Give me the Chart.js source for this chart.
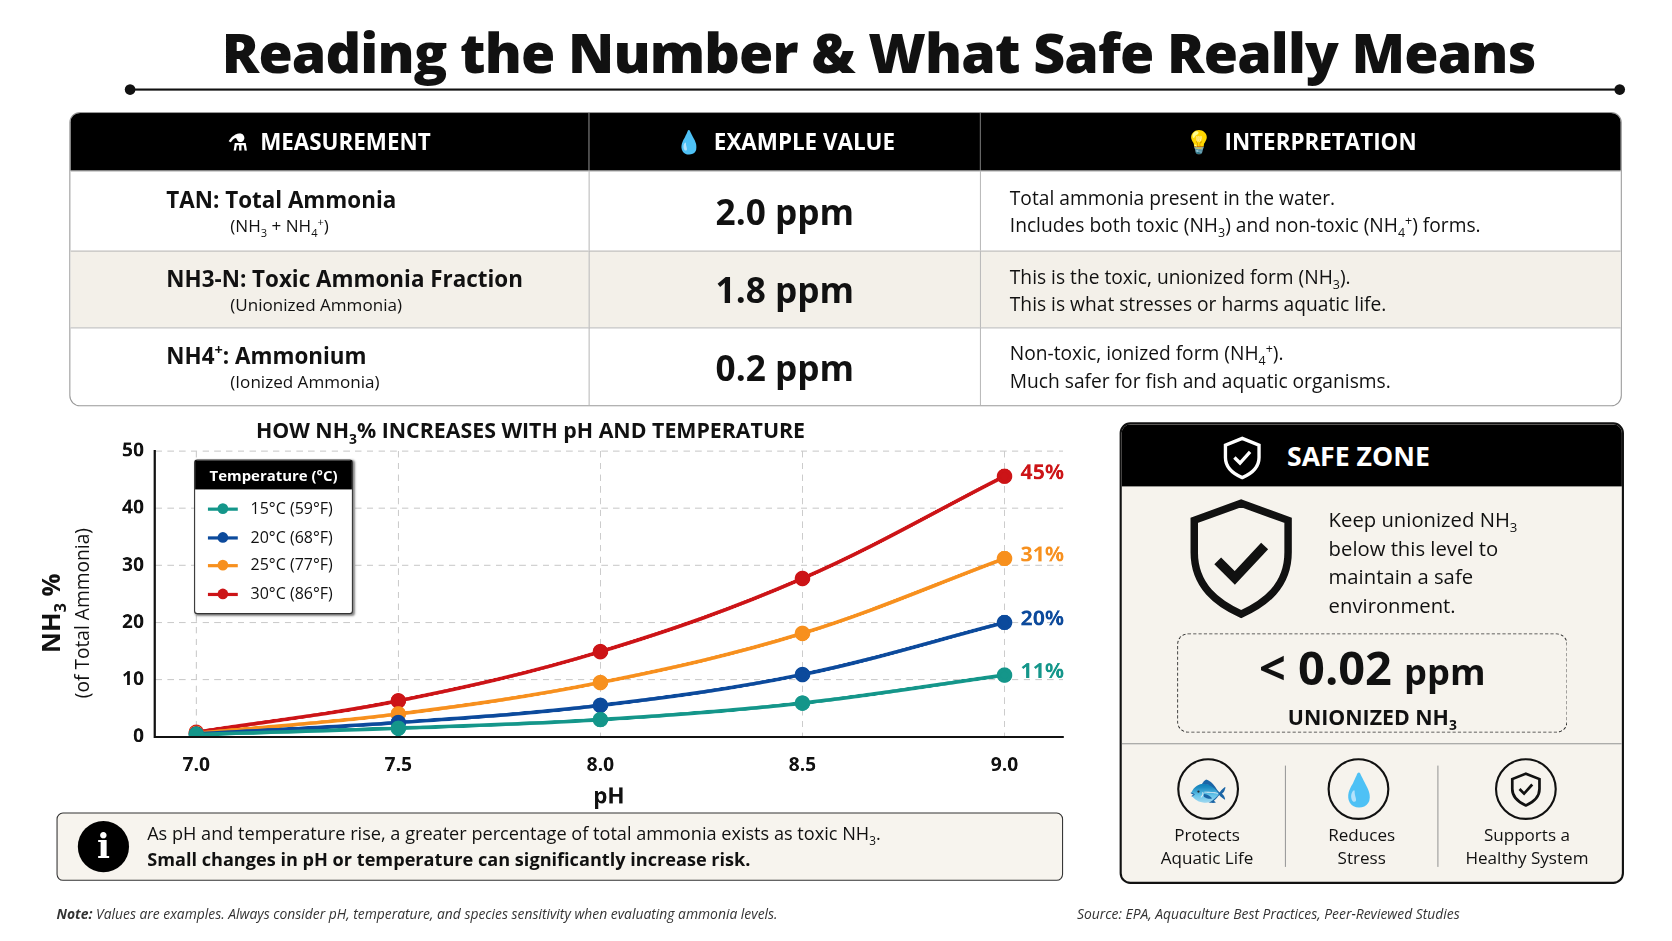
<!DOCTYPE html>
<html><head><meta charset="utf-8">
<script src="https://cdn.jsdelivr.net/npm/chart.js@4"></script>
<style>
body{margin:0;width:1672px;height:941px;background:#fff;font-family:"Open Sans",sans-serif;color:#111;overflow:hidden}
#root{position:relative;width:1568px;height:882px;transform:scale(1.0663);transform-origin:0 0}
.a{position:absolute}
h1{position:absolute;left:0;top:12px;margin:0;text-align:center;font:800 52px "Open Sans";letter-spacing:-0.8px;width:1568px;padding-left:80px;box-sizing:border-box}
table{position:absolute;left:65px;top:105px;width:1456px;border-collapse:separate;border-spacing:0;border:1px solid #999;border-radius:10px;overflow:hidden}
th{background:#000;color:#fff;height:52px;font:bold 21px "Open Sans";text-align:center}
td{border-top:1px solid #bbb;border-left:1px solid #bbb;vertical-align:middle}
td:first-child{border-left:none}
.big{font:bold 33px "Open Sans";text-align:center}
.it{font-size:18px;padding-left:27px;line-height:26px}
.m{padding-left:90px;font:bold 21px "Open Sans";line-height:28px}
.m span{font:normal 16px "Open Sans";display:block;padding-left:60px}
tr.b td{background:#f3f0e9}
sub,sup{font-size:65%;line-height:0}
</style></head><body><div id="root">
<h1>Reading the Number &amp; What Safe Really Means</h1>
<div class="a" style="left:122px;top:83px;width:1398px;height:2px;background:#111"></div>
<div class="a" style="left:117px;top:79px;width:10px;height:10px;border-radius:5px;background:#111"></div>
<div class="a" style="left:1514px;top:79px;width:10px;height:10px;border-radius:5px;background:#111"></div>
<table>
<tr><th style="width:484px">⚗&nbsp; MEASUREMENT</th><th style="width:364px;border-left:1px solid #666">💧&nbsp; EXAMPLE VALUE</th><th style="border-left:1px solid #666">💡&nbsp; INTERPRETATION</th></tr>
<tr style="height:75px"><td class="m">TAN: Total Ammonia<span>(NH<sub>3</sub> + NH<sub>4</sub><sup>+</sup>)</span></td><td class="big">2.0 ppm</td><td class="it">Total ammonia present in the water.<br>Includes both toxic (NH<sub>3</sub>) and non-toxic (NH<sub>4</sub><sup>+</sup>) forms.</td></tr>
<tr class="b" style="height:72px"><td class="m">NH3-N: Toxic Ammonia Fraction<span>(Unionized Ammonia)</span></td><td class="big">1.8 ppm</td><td class="it">This is the toxic, unionized form (NH<sub>3</sub>).<br>This is what stresses or harms aquatic life.</td></tr>
<tr style="height:73px"><td class="m">NH4<sup>+</sup>: Ammonium<span>(Ionized Ammonia)</span></td><td class="big">0.2 ppm</td><td class="it">Non-toxic, ionized form (NH<sub>4</sub><sup>+</sup>).<br>Much safer for fish and aquatic organisms.</td></tr>
</table>

<div class="a" style="left:240px;top:390px;font:bold 20px 'Open Sans'">HOW NH<sub>3</sub>% INCREASES WITH pH AND TEMPERATURE</div>
<div class="a" style="left:-60px;top:545px;width:240px;height:60px;transform:rotate(-90deg);text-align:center;line-height:26px">
<div style="font:bold 24px 'Open Sans'">NH<sub>3</sub> %</div><div style="font-size:18px">(of Total Ammonia)</div></div>
<div class="a" style="left:40px;top:390px;width:980px;height:370px"><canvas id="c"></canvas></div>
<div class="a" id="leg" style="left:182px;top:431px;width:147px;height:143px;border:1px solid #333;border-radius:3px;background:#fff;font-size:15px;box-shadow:1px 1px 2px #888">
<div style="background:#000;color:#fff;font:bold 14px 'Open Sans';text-align:center;height:27px;line-height:27px">Temperature (°C)</div></div>

<div class="a" style="left:53px;top:762px;width:942px;height:62px;border:1.5px solid #333;border-radius:6px;background:#f7f4ee"></div>
<div class="a" style="left:73px;top:770px;width:48px;height:48px;border-radius:24px;background:#000;color:#fff;font:bold 32px 'DejaVu Serif';text-align:center;line-height:48px">i</div>
<div class="a" style="left:138px;top:770px;font-size:17px;line-height:24px">As pH and temperature rise, a greater percentage of total ammonia exists as toxic NH<sub>3</sub>.<br><b>Small changes in pH or temperature can significantly increase risk.</b></div>

<div class="a" style="left:1050px;top:396px;width:469px;height:429px;border:2px solid #111;border-radius:10px;background:#f6f3ed;overflow:hidden">
<div style="background:#000;color:#fff;height:58px;font:bold 25px 'Open Sans';line-height:58px;padding-left:155px">SAFE ZONE</div>
<svg class="a" style="left:92px;top:10px" width="42" height="42" viewBox="0 0 40 40"><path d="M20 3 L35 9 V20 C35 30 27 35 20 38 C13 35 5 30 5 20 V9 Z" fill="none" stroke="#fff" stroke-width="3"/><path d="M13 20 l5 5 l9 -10" fill="none" stroke="#fff" stroke-width="3"/></svg>
<svg class="a" style="left:62px;top:70px" width="100" height="112" viewBox="0 0 100 112"><path d="M50 4 L94 20 V50 C94 82 72 98 50 108 C28 98 6 82 6 50 V20 Z" fill="none" stroke="#111" stroke-width="7"/><path d="M28 58 l16 16 l28 -30" fill="none" stroke="#111" stroke-width="9"/></svg>
<div class="a" style="left:194px;top:76px;font-size:19px;line-height:27px">Keep unionized NH<sub>3</sub><br>below this level to<br>maintain a safe<br>environment.</div>
<div class="a" style="left:52px;top:196px;width:364px;height:91px;border:1.5px dashed #333;border-radius:10px;text-align:center">
<div style="font:bold 44px 'Open Sans';line-height:60px">&lt; 0.02 <span style="font-size:34px">ppm</span></div>
<div style="font:bold 20px 'Open Sans'">UNIONIZED NH<sub>3</sub></div></div>
<div class="a" style="left:0;top:299px;width:469px;height:1px;background:#999"></div>
<div class="a" style="left:153px;top:320px;width:1px;height:95px;background:#999"></div>
<div class="a" style="left:296px;top:320px;width:1px;height:95px;background:#999"></div>
<div class="a" style="left:52px;top:313px;width:54px;height:54px;border:2px solid #111;border-radius:30px;font-size:30px;text-align:center;line-height:54px">🐟</div>
<div class="a" style="left:193px;top:313px;width:54px;height:54px;border:2px solid #111;border-radius:30px;font-size:30px;text-align:center;line-height:54px">💧</div>
<div class="a" style="left:350px;top:313px;width:54px;height:54px;border:2px solid #111;border-radius:30px;text-align:center"><svg width="34" height="38" viewBox="0 0 40 40" style="margin-top:8px"><path d="M20 3 L35 9 V20 C35 30 27 35 20 38 C13 35 5 30 5 20 V9 Z" fill="none" stroke="#111" stroke-width="3"/><path d="M13 20 l5 5 l9 -10" fill="none" stroke="#111" stroke-width="3"/></svg></div>
<div class="a" style="left:10px;top:375px;width:140px;text-align:center;font-size:16px;line-height:21px">Protects<br>Aquatic Life</div>
<div class="a" style="left:155px;top:375px;width:140px;text-align:center;font-size:16px;line-height:21px">Reduces<br>Stress</div>
<div class="a" style="left:300px;top:375px;width:160px;text-align:center;font-size:16px;line-height:21px">Supports a<br>Healthy System</div>
</div>

<div class="a" style="left:53px;top:848px;font-size:13px;font-style:italic;color:#333"><b>Note:</b> Values are examples. Always consider pH, temperature, and species sensitivity when evaluating ammonia levels.</div>
<div class="a" style="left:1010px;top:848px;font-size:13px;font-style:italic;color:#333">Source: EPA, Aquaculture Best Practices, Peer-Reviewed Studies</div>
</div>
<script>
const phValues=[7.0,7.5,8.0,8.5,9.0];
const seriesLabels=["15°C (59°F)","20°C (68°F)","25°C (77°F)","30°C (86°F)"];
const t15=[0.4,1.5,3.0,5.9,10.8];
const t20=[0.5,2.5,5.5,10.9,20.0];
const t25=[0.6,4.0,9.5,18.1,31.2];
const t30=[0.8,6.3,14.9,27.7,45.6];
const endLabels=["11%","20%","31%","45%"];
const colors=["#14968a","#0c4a9c","#f7901e","#cc1417"];
const all=[t15,t20,t25,t30];
const leg=document.getElementById('leg');
seriesLabels.forEach((s,i)=>{const d=document.createElement('div');d.style.cssText='height:26.5px;line-height:26.5px;padding-left:12px;margin-top:'+(i?0:4)+'px';d.innerHTML='<span style="display:inline-block;vertical-align:middle;width:28px;height:3px;background:'+colors[i]+';position:relative;margin-right:12px"><span style="position:absolute;left:9px;top:-4px;width:10px;height:10px;border-radius:5px;background:'+colors[i]+'"></span></span>'+s;leg.appendChild(d);});
const endPlugin={id:'ends',afterDatasetsDraw(ch){const c=ch.ctx;c.save();c.font='bold 20px "Open Sans"';c.textBaseline='middle';ch.data.datasets.forEach((d,i)=>{const m=ch.getDatasetMeta(i).data[4];c.fillStyle=colors[i];c.fillText(endLabels[i],m.x+15,m.y-3);});c.restore();}};
new Chart(document.getElementById('c'),{type:'line',
data:{datasets:all.map((v,i)=>({label:seriesLabels[i],data:phValues.map((p,j)=>({x:p,y:v[j]})),borderColor:colors[i],backgroundColor:colors[i],borderWidth:3.5,pointRadius:5.5,tension:0.35}))},
options:{responsive:true,maintainAspectRatio:false,animation:false,devicePixelRatio:2,layout:{padding:{top:33,right:23}},
plugins:{legend:{display:false},tooltip:{enabled:false}},
scales:{x:{type:'linear',min:6.897,max:9.145,afterBuildTicks:a=>{a.ticks=phValues.map(v=>({value:v}))},
ticks:{callback:v=>v.toFixed(1),color:'#111',font:{size:18,weight:'bold',family:'Open Sans'},padding:16},
grid:{color:'#ccc',drawTicks:false},border:{color:'#111',width:2,dash:[6,5]},
title:{display:true,text:'pH',color:'#111',font:{size:21,weight:'bold',family:'Open Sans'},padding:0},
afterFit:a=>{a.height=69}},
y:{min:0,max:50,ticks:{stepSize:10,color:'#111',font:{size:18,weight:'bold',family:'Open Sans'},padding:10},
grid:{color:'#ccc',drawTicks:false},border:{color:'#111',width:2,dash:[6,5]},afterFit:a=>{a.width=105}}}},
plugins:[endPlugin,{id:'axes',afterDraw(ch){const c=ch.ctx,a=ch.chartArea;c.save();c.strokeStyle='#111';c.lineWidth=2;c.beginPath();c.moveTo(a.left,a.top);c.lineTo(a.left,a.bottom);c.lineTo(a.right,a.bottom);c.stroke();c.restore();}}]});
</script>
</body></html>
